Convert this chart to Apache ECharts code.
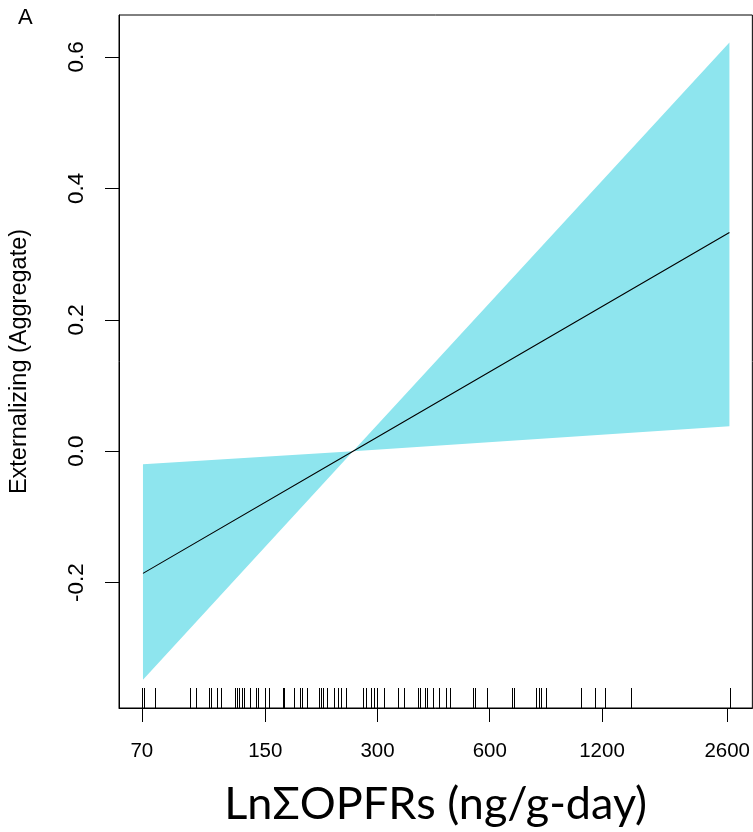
<!DOCTYPE html>
<html>
<head>
<meta charset="utf-8">
<script src="https://cdn.jsdelivr.net/npm/echarts@6/dist/echarts.min.js"></script>
<style>
html,body{margin:0;padding:0;background:#fff;}
#chart{width:753px;height:832px;}
</style>
</head>
<body>
<div id="chart"></div>
<script>
// x tick labels (ng/g-day, plotted on ln scale)
const xTicks = [70, 150, 300, 600, 1200, 2600];
const yTicks = [-0.2, 0.0, 0.2, 0.4, 0.6];
// fitted line and confidence band (x in ng/g-day)
const bandX = [70.5, 257.9, 2636];
const fitY = [-0.186, 0.0, 0.333];
const upperY = [-0.020, 0.0, 0.622];
const lowerY = [-0.348, 0.0, 0.038];
// rug of observed exposures
const rugX = [70.2, 71.0, 76.0, 94.2, 97.9, 106.0, 107.4, 111.4, 114.2, 124.5, 126.0, 127.6,
  129.9, 131.5, 136.5, 141.7, 143.4, 149.8, 153.5, 167.3, 168.4, 179.1, 185.9, 188.2, 194.0,
  209.0, 211.6, 214.2, 219.5, 229.2, 235.0, 239.4, 246.9, 274.2, 279.3, 288.1, 293.4, 298.9,
  312.1, 340.2, 353.0, 385.0, 389.7, 401.9, 406.8, 422.3, 438.1, 457.4, 468.9, 540.4, 547.0,
  589.2, 687.4, 695.8, 797.0, 812.0, 822.0, 847.5, 1052, 1147, 1220, 1432, 2652];

const X_MIN = 4.1076, X_MAX = 8.0187;
const Y_MIN = -0.3909, Y_MAX = 0.6639;
const FONT = '"Liberation Sans", Arial, sans-serif';

const chart = echarts.init(document.getElementById('chart'), null, {renderer: 'canvas'});
const option = {
  animation: false,
  backgroundColor: '#ffffff',
  title: {
    text: 'A', left: 18, top: 7, padding: 0,
    textStyle: {fontFamily: FONT, fontSize: 22, fontWeight: 'normal', color: '#000'}
  },
  grid: {left: 119, top: 15, right: 0.5, bottom: 123, show: true, borderColor: '#000', borderWidth: 1, backgroundColor: 'transparent'},
  xAxis: {
    type: 'value', min: X_MIN, max: X_MAX,
    name: 'LnΣOPFRs (ng/g-day)', nameLocation: 'middle', nameGap: 74,
    nameTextStyle: {fontFamily: 'Lato, "Open Sans", sans-serif', fontSize: 45, color: '#000'},
    axisLine: {show: true, onZero: false, lineStyle: {color: '#000', width: 1}},
    axisTick: {show: true, length: 14, lineStyle: {color: '#000'}, customValues: xTicks.map(v => Math.log(v))},
    axisLabel: {
      show: true, margin: 33, fontFamily: FONT, fontSize: 20.5, color: '#000',
      customValues: xTicks.map(v => Math.log(v)),
      formatter: function (v) {
        let best = xTicks[0];
        xTicks.forEach(t => { if (Math.abs(Math.log(t) - v) < Math.abs(Math.log(best) - v)) best = t; });
        return String(best);
      }
    },
    splitLine: {show: false}
  },
  yAxis: {
    type: 'value', min: Y_MIN, max: Y_MAX,
    name: 'Externalizing (Aggregate)', nameLocation: 'middle', nameGap: 87, nameRotate: 90,
    nameTextStyle: {fontFamily: FONT, fontSize: 23.5, color: '#000'},
    axisLine: {show: true, onZero: false, lineStyle: {color: '#000', width: 1}},
    axisTick: {show: true, length: 14, lineStyle: {color: '#000'}, customValues: yTicks},
    axisLabel: {
      show: true, rotate: 90, margin: 31, fontFamily: FONT, fontSize: 22.5, color: '#000',
      customValues: yTicks,
      formatter: v => v.toFixed(1)
    },
    splitLine: {show: false}
  },
  series: [
    {
      type: 'custom',
      silent: true,
      data: bandX.map((x, i) => [Math.log(x), upperY[i], lowerY[i]]),
      renderItem: function (params, api) {
        if (params.dataIndex !== 0) return null;
        const pts = [];
        for (let i = 0; i < bandX.length; i++) pts.push(api.coord([Math.log(bandX[i]), upperY[i]]));
        for (let i = bandX.length - 1; i >= 0; i--) pts.push(api.coord([Math.log(bandX[i]), lowerY[i]]));
        return {type: 'polygon', shape: {points: pts}, style: {fill: '#8EE5EE', stroke: null}};
      },
      z: 1
    },
    {
      type: 'line',
      data: bandX.map((x, i) => [Math.log(x), fitY[i]]),
      symbol: 'none',
      lineStyle: {color: '#000', width: 1.1},
      z: 3
    },
    {
      type: 'custom',
      silent: true,
      data: rugX.map(v => [Math.log(v)]),
      renderItem: function (params, api) {
        const p = api.coord([api.value(0), Y_MIN]);
        const x = Math.round(p[0]) + 0.5;
        return {type: 'line', shape: {x1: x, y1: p[1], x2: x, y2: p[1] - 20},
          style: {stroke: '#000', lineWidth: 1}};
      },
      z: 2
    }
  ]
};
chart.setOption(option);
</script>
</body>
</html>
